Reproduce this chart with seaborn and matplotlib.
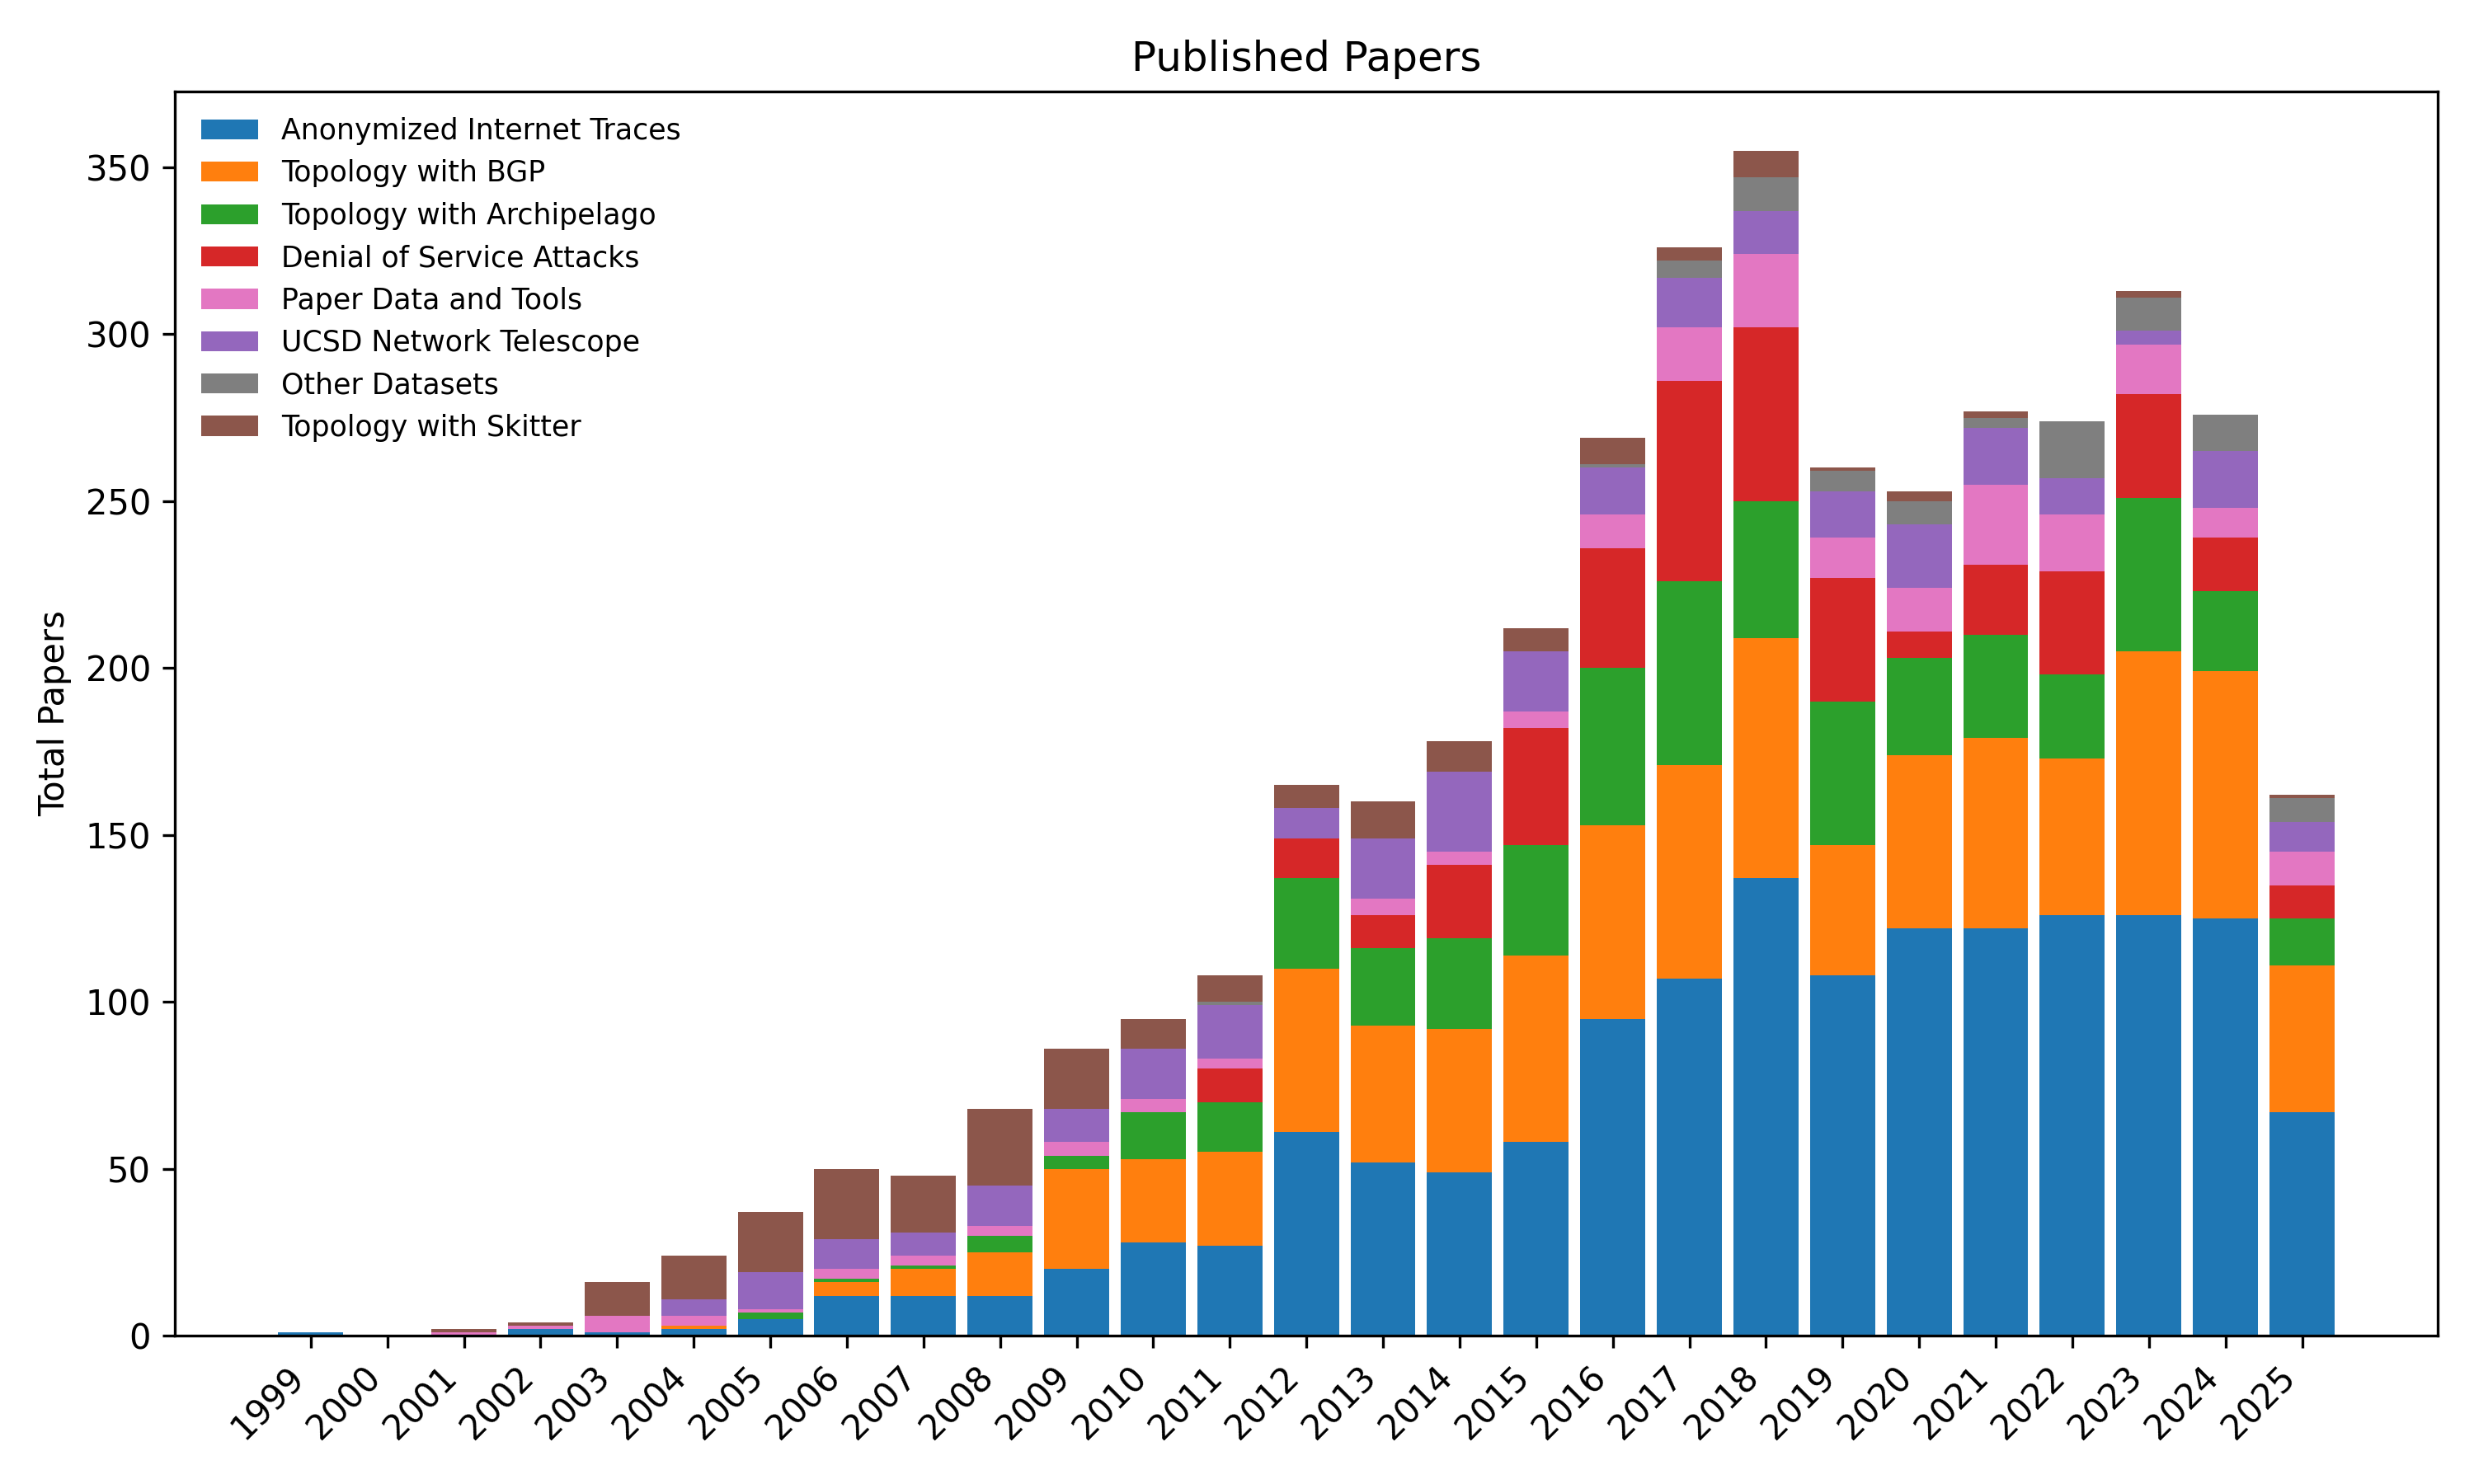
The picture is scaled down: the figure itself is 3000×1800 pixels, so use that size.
import matplotlib
matplotlib.use("Agg")
import matplotlib.pyplot as plt
import seaborn as sns
import numpy as np
import pandas as pd
from matplotlib.patches import Patch

years = [str(y) for y in range(1999, 2026)]

anonymized = [1, 0, 0, 2, 1, 2, 5, 12, 12, 12, 20, 28, 27, 61, 52, 49, 58, 95, 107, 137, 108, 122, 122, 126, 126, 125, 67]
bgp        = [0, 0, 0, 0, 0, 1, 0, 4, 8, 13, 30, 25, 28, 49, 41, 43, 56, 58, 64, 72, 39, 52, 57, 47, 79, 74, 44]
archipelago= [0, 0, 0, 0, 0, 0, 2, 1, 1, 5, 4, 14, 15, 27, 23, 27, 33, 47, 55, 41, 43, 29, 31, 25, 46, 24, 14]
dos        = [0, 0, 0, 0, 0, 0, 0, 0, 0, 0, 0, 0, 10, 12, 10, 22, 35, 36, 60, 52, 37, 8, 21, 31, 31, 16, 10]
paper_data = [0, 0, 1, 1, 5, 3, 1, 3, 3, 3, 4, 4, 3, 0, 5, 4, 5, 10, 16, 22, 12, 13, 24, 17, 15, 9, 10]
telescope  = [0, 0, 0, 0, 0, 5, 11, 9, 7, 12, 10, 15, 16, 9, 18, 24, 18, 14, 15, 13, 14, 19, 17, 11, 4, 17, 9]
other      = [0, 0, 0, 0, 0, 0, 0, 0, 0, 0, 0, 0, 1, 0, 0, 0, 0, 1, 5, 10, 6, 7, 3, 17, 10, 11, 7]
skitter    = [0, 0, 1, 1, 10, 13, 18, 21, 17, 23, 18, 9, 8, 7, 11, 9, 7, 8, 4, 8, 1, 3, 2, 0, 2, 0, 1]

labels = ["Anonymized Internet Traces", "Topology with BGP", "Topology with Archipelago",
          "Denial of Service Attacks", "Paper Data and Tools", "UCSD Network Telescope",
          "Other Datasets", "Topology with Skitter"]
series = [anonymized, bgp, archipelago, dos, paper_data, telescope, other, skitter]
colors = ["#1f77b4", "#ff7f0e", "#2ca02c", "#d62728", "#e377c2", "#9467bd", "#7f7f7f", "#8c564b"]

df = pd.DataFrame(dict(zip(labels, series)), index=years)
cum = df.cumsum(axis=1)

fig, ax = plt.subplots(figsize=(10, 6), dpi=300)

# draw cumulative totals from the top layer down so each layer sits on the one below
for lab, col in reversed(list(zip(labels, colors))):
    sns.barplot(x=years, y=cum[lab].values, color=col, saturation=1,
                width=0.85, errorbar=None, ax=ax)

ax.set_xlim(-1.77, len(years) + 0.77)
ax.set_ylim(0, cum.iloc[:, -1].max() * 1.05)
ax.set_title("Published Papers", fontsize=12)
ax.set_ylabel("Total Papers")
ax.set_xlabel("")
plt.setp(ax.get_xticklabels(), rotation=45, ha="right")

handles = [Patch(facecolor=c, label=l) for l, c in zip(labels, colors)]
ax.legend(handles=handles, loc="upper left", frameon=False, fontsize="small")

fig.subplots_adjust(left=0.0708, right=0.9853, top=0.9384, bottom=0.0999)
plt.savefig("out.png", dpi=300)
